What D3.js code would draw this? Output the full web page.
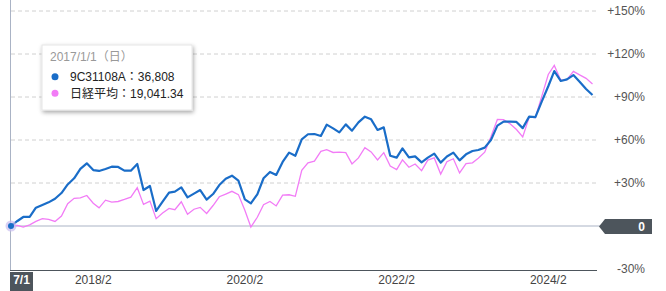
<!DOCTYPE html>
<html><head><meta charset="utf-8">
<script src="https://cdn.jsdelivr.net/npm/d3@7"></script>
<style>
html,body{margin:0;padding:0;background:#fff;}
svg{display:block;font-family:"Liberation Sans","Noto Sans CJK JP",Arial,sans-serif;}
</style></head>
<body><svg id="c" width="666" height="291"></svg>
<script>
// Categories: monthly points 2017/1 .. 2024/9
const startMonth = new Date(2017, 0, 1);
const endMonth = new Date(2024, 9, 1);
const months = d3.timeMonth.range(startMonth, endMonth);

// Series values (% change from start)
const fundName = "9C31108A";
const fundBase = "36,808";
const fundPct = [0,3.5,6.3,6.3,12.8,14.7,16.5,19,23,29,33.3,39.8,43.7,39,38.4,39.8,41.4,41.2,38.6,38.6,
  43.3,25.1,27.9,10.5,17,23.3,24,27,20,22.6,25.1,18.4,22.3,28.6,33,35.1,31.6,18.6,15.8,22.1,
  33.3,37.7,35.6,44.7,51.2,49,60.5,64,64.2,62.8,70.7,68.1,65.3,70.9,66.5,72.3,76.3,74.4,67,68.8,
  49,47.7,54.2,47.9,48.6,44.4,47.7,50.5,44.2,48.5,51.2,45.8,50,52.3,53,54.7,60,70,72.8,72.8,
  72.6,68.3,76.3,76,87,97.5,108.1,101.2,102.3,105.3,100.7,95.6,91.4];
const nikkeiName = "日経平均";
const nikkeiBase = "19,041.34";
const nikkeiPct = [0,0.4,-0.7,0.8,3.2,5.2,4.6,3.2,6.9,15.6,19.3,19.6,21.3,15.9,12.7,18.0,16.6,17.1,18.5,20.1,
  26.7,15.1,17.4,5.1,9.1,12.3,11.4,16.9,8.2,11.7,13.0,8.7,14.3,20.4,22.3,24.2,21.9,11.0,-0.7,6.1,
  14.9,17.1,14.0,21.5,21.8,20.7,38.8,44.1,45.3,52.1,53.2,51.3,51.6,51.2,43.3,47.5,54.7,51.7,46.1,51.2,
  41.8,39.3,46.1,41.0,43.3,38.6,46.0,47.5,36.2,44.9,46.9,37.0,43.5,44.1,47.3,51.5,62.2,74.3,74.2,71.3,
  67.3,62.1,75.9,75.7,90.6,105.7,112.0,101.7,102.1,107.9,105.4,103.0,99.1];

// Tick labels
const xTickDates = [new Date(2018,1,1), new Date(2020,1,1), new Date(2022,1,1), new Date(2024,1,1)];
const xTickLabels = ["2018/2","2020/2","2022/2","2024/2"];
const yTicks = [-30,0,30,60,90,120,150];
const tooltipDate = "2017/1/1（日）";
const startLabel = "7/1";

const blue = "#1a6dc8", pink = "#f27cf6";
const svg = d3.select("#c");
const x = d3.scaleTime().domain([startMonth, new Date(2024,8,1)]).range([11, 592.5]);
const y = d3.scaleLinear().domain([-30,150]).range([269,11]);
const plotRight = 597;

// defs
const defs = svg.append("defs");
const f = defs.append("filter").attr("id","sh").attr("x","-10%").attr("y","-10%").attr("width","130%").attr("height","140%");
f.append("feDropShadow").attr("dx",1).attr("dy",2).attr("stdDeviation",2).attr("flood-color","#000").attr("flood-opacity",0.35);

// gridlines
svg.append("g").selectAll("line").data(yTicks.filter(d=>d>0)).join("line")
  .attr("x1",11).attr("x2",plotRight).attr("y1",d=>y(d)).attr("y2",d=>y(d))
  .attr("stroke","#d0d0d0").attr("stroke-dasharray","4,3");
// zero line
svg.append("line").attr("x1",11).attr("x2",600).attr("y1",y(0)).attr("y2",y(0)).attr("stroke","#aab3c5");
// bottom axis line
svg.append("line").attr("x1",10).attr("x2",plotRight).attr("y1",270.5).attr("y2",270.5).attr("stroke","#4d555c").attr("stroke-width",1.2);
// left vertical
svg.append("line").attr("x1",10.5).attr("x2",10.5).attr("y1",0).attr("y2",270).attr("stroke","#aab3c5");

// right labels
svg.append("g").selectAll("text").data(yTicks.filter(d=>d!==0)).join("text")
  .attr("x",645).attr("y",d=>y(d)).attr("dy","0.35em").attr("text-anchor","end")
  .attr("font-size",12).attr("fill","#555")
  .text(d=>(d>0?"+":"")+d+"%");
// zero label box
const zy = y(0)+0.5;
svg.append("path").attr("d",`M599,${zy} L605,${zy-7.5} L652,${zy-7.5} L652,${zy+7.5} L605,${zy+7.5} Z`).attr("fill","#4d555c");
svg.append("text").attr("x",645).attr("y",zy).attr("dy","0.35em").attr("text-anchor","end")
  .attr("font-size",12).attr("font-weight","bold").attr("fill","#fff").text("0");

// x labels
svg.append("g").selectAll("text").data(xTickDates).join("text")
  .attr("x",d=>x(d)).attr("y",283.5).attr("text-anchor","middle")
  .attr("font-size",12).attr("fill","#444").text((d,i)=>xTickLabels[i]);
// start label box
svg.append("rect").attr("x",10).attr("y",272).attr("width",23).attr("height",19).attr("fill","#4d555c");
svg.append("text").attr("x",21.5).attr("y",283.5).attr("text-anchor","middle").attr("font-size",12)
  .attr("font-weight","bold").attr("fill","#fff").text(startLabel);

// lines
const line = arr => d3.line().x((d,i)=>x(months[i])).y(d=>y(d))(arr);
svg.append("path").attr("d",line(nikkeiPct)).attr("fill","none").attr("stroke",pink).attr("stroke-width",1.3);
svg.append("path").attr("d",line(fundPct)).attr("fill","none").attr("stroke",blue).attr("stroke-width",2.2).attr("stroke-linejoin","round");

// hover marker
svg.append("circle").attr("cx",x(months[0])).attr("cy",y(fundPct[0])).attr("r",5.5).attr("fill","#c9bdf0").attr("opacity",0.7);
svg.append("circle").attr("cx",x(months[0])).attr("cy",y(fundPct[0])).attr("r",3).attr("fill",blue);

// tooltip
const tt = svg.append("g");
tt.append("rect").attr("x",42).attr("y",45).attr("width",150).attr("height",65).attr("fill","#fff")
  .attr("stroke","#e6e6e6").attr("filter","url(#sh)");
tt.append("text").attr("x",50).attr("y",57).attr("dy","0.35em").attr("font-size",12).attr("fill","#999").text(tooltipDate);
const rows = [[blue, fundName+"："+fundBase],[pink, nikkeiName+"："+nikkeiBase]];
rows.forEach((r,i)=>{
  const cy = 76.7 + i*16.6;
  tt.append("circle").attr("cx",55).attr("cy",cy).attr("r",3.5).attr("fill",r[0]);
  tt.append("text").attr("x",70).attr("y",cy).attr("dy","0.35em").attr("font-size",12).attr("fill","#222").text(r[1]);
});
</script></body></html>
